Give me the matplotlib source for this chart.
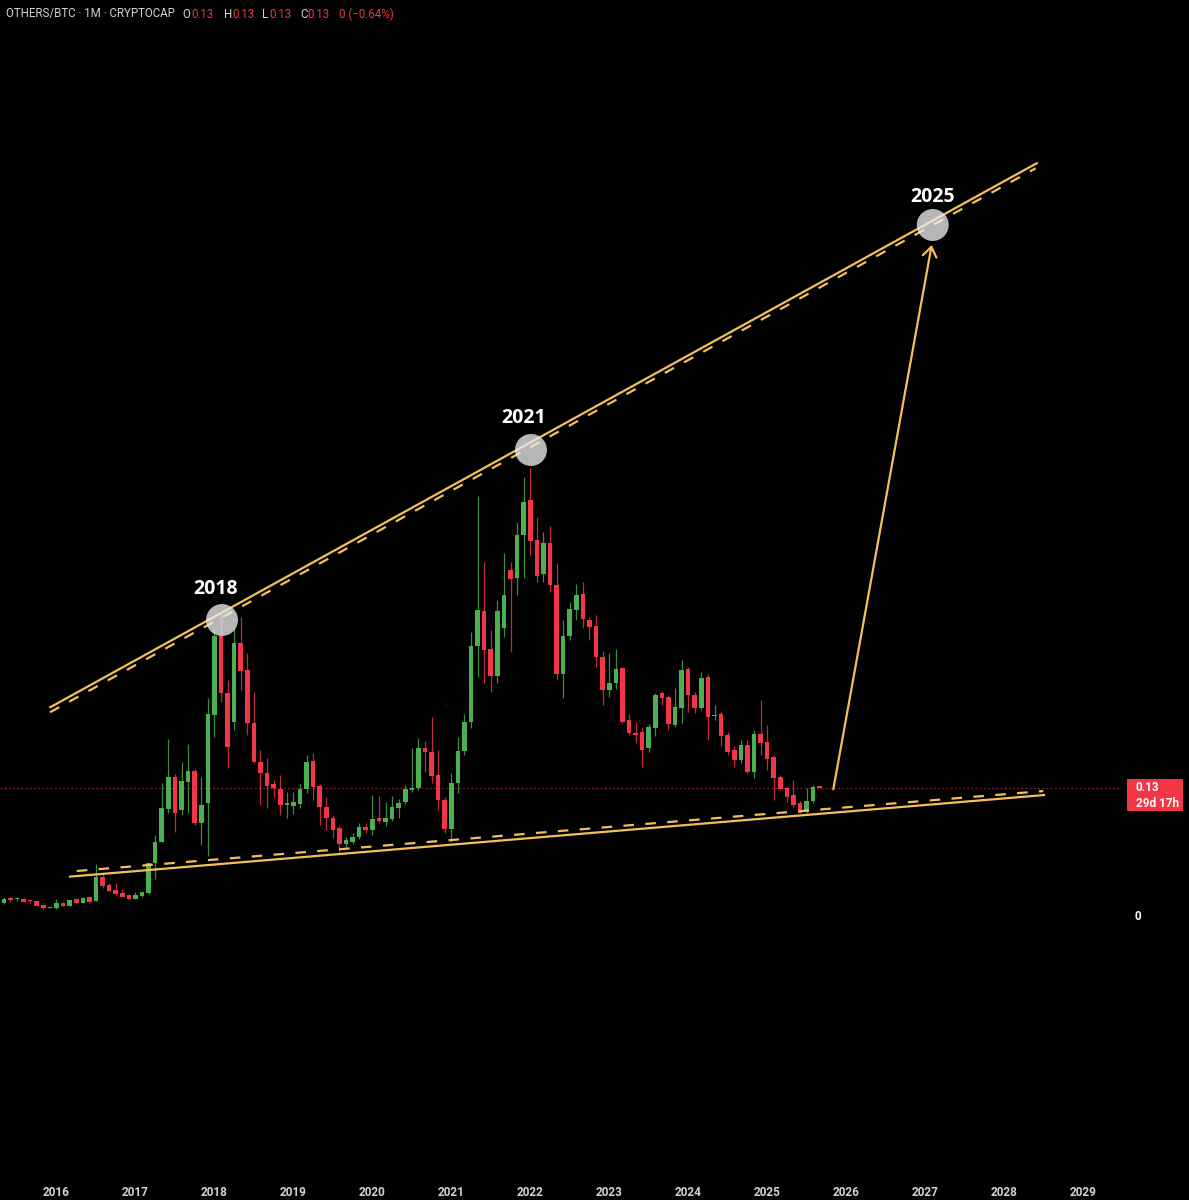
import numpy as np
import pandas as pd
import matplotlib
matplotlib.use("Agg")
import matplotlib.pyplot as plt
import matplotlib.transforms as mtransforms
from matplotlib.patches import Rectangle

plt.rcParams["font.family"] = ["Roboto", "DejaVu Sans"]
plt.rcParams["lines.scale_dashes"] = False

# ---- monthly OHLC, OTHERS/BTC, May 2015 .. Sep 2025 ----
opens = [
    .0119, .0162, .0165, .0162, .0145, .0139, .0098, .0072,
    .0068, .0125, .0094, .0159, .0125, .0179, .0142, .0383, .0308, .0257, .0223, .0203,
    .0166, .0193, .0220, .0525, .0745, .1073, .1405, .1066, .1354, .1463, .0931, .1134,
    .2031, .2834, .2258, .1963, .2759, .2488, .1947, .1557, .1438, .1330, .1280, .1117,
    .1107, .1127, .1280, .1567, .1313, .1094, .0982, .0880, .0721, .0745, .0789, .0891,
    .0863, .0988, .0948, .0972, .1083, .1151, .1270, .1287, .1693, .1659, .1422, .1168,
    .0870, .1338, .1666, .1957, .2732, .3088, .2702, .2427, .2918, .3504, .3420, .3860,
    .4215, .3809, .3460, .3775, .3352, .2448, .2834, .3098, .3260, .2996, .2935, .2623,
    .2285, .2353, .2506, .1980, .1852, .1855, .1693, .1902, .2252, .2217, .1930, .2106,
    .2495, .2234, .2106, .2414, .2020, .2041, .1828, .1676, .1574, .1727, .1456, .1838,
    .1760, .1608, .1405, .1293, .1219, .1141, .1050, .1158, .1303,
]
highs = [
    .0186, .0186, .0186, .0173, .0160, .0142, .0101, .0080,
    .0160, .0130, .0155, .0165, .0183, .0193, .0518, .0424, .0320, .0328, .0261, .0210,
    .0231, .0237, .0530, .0813, .1338, .1784, .1430, .1557, .1737, .1480, .1405, .2201,
    .2900, .3064, .2387, .2912, .3030, .2658, .2268, .1676, .1590, .1370, .1422, .1252,
    .1245, .1333, .1625, .1642, .1330, .1202, .1016, .0900, .0796, .0830, .0930, .0930,
    .1219, .1209, .1151, .1209, .1180, .1320, .1693, .1795, .1770, .2014, .1676, .1200,
    .1439, .1810, .2040, .2877, .4256, .3588, .2895, .3196, .3673, .3588, .3995, .4452,
    .4540, .4045, .3893, .3950, .3572, .3000, .3180, .3362, .3386, .3030, .3047, .2685,
    .2664, .2699, .2516, .2037, .1963, .1913, .1940, .2258, .2275, .2230, .2302, .2590,
    .2520, .2260, .2471, .2450, .2133, .2065, .1862, .1716, .1777, .1777, .1879, .2184,
    .1930, .1620, .1420, .1310, .1371, .1160, .1287, .1321, .1306,
]
lows = [
    .0112, .0132, .0145, .0132, .0125, .0088, .0064, .0070,
    .0061, .0090, .0090, .0118, .0120, .0119, .0140, .0271, .0240, .0203, .0180, .0155,
    .0159, .0180, .0215, .0366, .0740, .1033, .0846, .1016, .1033, .0910, .0711, .0600,
    .1810, .2166, .1490, .1879, .2285, .1828, .1540, .1117, .1083, .1202, .1016, .0982,
    .1030, .1083, .1235, .1168, .0914, .0863, .0779, .0643, .0694, .0720, .0770, .0830,
    .0813, .0930, .0900, .0950, .0990, .1130, .1250, .1270, .1450, .1338, .1066, .0830,
    .0745, .1240, .1620, .1900, .2420, .2353, .2268, .2353, .2827, .2674, .3250, .3420,
    .3656, .3385, .3385, .3284, .2387, .2201, .2790, .3000, .2915, .2790, .2522, .2133,
    .2211, .2300, .1947, .1828, .1744, .1506, .1659, .1818, .2133, .1879, .1913, .1947,
    .2065, .2050, .2080, .1777, .1980, .1720, .1625, .1506, .1541, .1439, .1388, .1625,
    .1473, .1168, .1270, .1151, .1100, .1033, .1033, .1134, .1292,
]
closes = [
    .0166, .0157, .0167, .0135, .0140, .0091, .0068, .0076,
    .0122, .0094, .0149, .0122, .0173, .0132, .0383, .0298, .0244, .0209, .0186, .0159,
    .0206, .0231, .0525, .0745, .1083, .1405, .1033, .1364, .1466, .0931, .1117, .2041,
    .2834, .2258, .1709, .2759, .2481, .1947, .1557, .1438, .1313, .1287, .1117, .1134,
    .1151, .1280, .1557, .1303, .1094, .0982, .0863, .0721, .0762, .0795, .0891, .0863,
    .0978, .0958, .0985, .1094, .1134, .1277, .1290, .1693, .1652, .1412, .1168, .0870,
    .1344, .1666, .1957, .2732, .3098, .2691, .2427, .3088, .3250, .3410, .3860, .4198,
    .3802, .3443, .3775, .3352, .2448, .2834, .3105, .3250, .3003, .2928, .2623, .2285,
    .2353, .2495, .1963, .1845, .1831, .1676, .1912, .2234, .2207, .1940, .2116, .2488,
    .2234, .2099, .2410, .2014, .2031, .1818, .1659, .1574, .1727, .1456, .1838, .1750,
    .1581, .1388, .1280, .1202, .1117, .1039, .1158, .1303, .12947,
]
first_month = "2015-05-01"

# trendlines: (year, value) end points
upper_solid = [(2015.909, 0.2105), (2028.427, 0.7641)]
upper_dash = [(2015.918, 0.2059), (2028.401, 0.7584)]
lower_solid = [(2016.158, 0.0389), (2028.519, 0.1219)]
lower_dash = [(2016.256, 0.0447), (2028.497, 0.1259)]

# marked cycle tops
pivot_labels = ["2018", "2021", "2025"]
pivot_x = [2018.096, 2022.009, 2027.097]
pivot_y = [0.2996, 0.4723, 0.7008]

# projection arrow
arrow_from = (2025.838, 0.1277)
arrow_to = (2027.084, 0.6805)

year_ticks = list(range(2016, 2030))
countdown = "29d 17h"

# ---- styling ----
BG = "#000000"
UP = "#4caf50"
DOWN = "#f23645"
GOLD = "#f4bf5a"
TEXT = "#d1d4dc"

W, H = 1189, 1200
fig = plt.figure(figsize=(W / 100, H / 100), dpi=100, facecolor=BG)
ax_left, ax_right_px, ax_bottom_px = 0, 1122, 1180
ax = fig.add_axes([0, (H - ax_bottom_px) / H, ax_right_px / W, ax_bottom_px / H])
ax.set_facecolor(BG)
for s in ax.spines.values():
    s.set_visible(False)

x_lo, x_hi = 2015.2845, 2029.494
y_lo, y_hi = -0.26914, 0.92931
ax.set_xlim(x_lo, x_hi)
ax.set_ylim(y_lo, y_hi)
px_per_unit = ax_bottom_px / (y_hi - y_lo)

o = np.array(opens)
h = np.array(highs)
l = np.array(lows)
c = np.array(closes)
months = pd.date_range(first_month, periods=len(o), freq="MS")
x = months.year + (months.month - 1) / 12.0

up = c >= o
colors = np.where(up, UP, DOWN)
body_lo = np.minimum(o, c)
body_h = np.maximum(np.abs(c - o), 1.2 / px_per_unit)

ax.vlines(x, l, h, colors=colors, linewidth=0.9, alpha=0.8, zorder=2)
ax.bar(x, body_h, bottom=body_lo, width=0.058, color=colors, linewidth=0, zorder=3)

# current price line
last = c[-1]
ax.axhline(last, color="#7a2630", lw=0.8, ls=(0, (1.5, 1.5)), zorder=1)

# channel lines
for pts, ls in [(upper_solid, "-"), (lower_solid, "-"),
                (upper_dash, (0, (7.6, 8.2))), (lower_dash, (0, (7.6, 8.2)))]:
    xs, ys = zip(*pts)
    ax.plot(xs, ys, color=GOLD, lw=1.6, ls=ls, solid_capstyle="butt",
            dash_capstyle="butt", zorder=4)

# projection arrow
ax.annotate("", xy=arrow_to, xytext=arrow_from,
            arrowprops=dict(arrowstyle="->,head_length=0.7,head_width=0.5",
                            color=GOLD, lw=1.6, shrinkA=0, shrinkB=0,
                            mutation_scale=10),
            zorder=4)

# cycle-top markers
ax.scatter(pivot_x, pivot_y, s=530, c="#ebebeb", alpha=0.78,
           edgecolors="none", zorder=6)
label_offsets = [(-4.3, 22.5), (-5.0, 23.0), (0.0, 19.8)]
for lab, px_, py_, off in zip(pivot_labels, pivot_x, pivot_y, label_offsets):
    ax.annotate(lab, xy=(px_, py_), xytext=off, textcoords="offset points",
                ha="center", va="center", fontsize=14, fontweight="bold",
                family=["Open Sans", "DejaVu Sans"], color="white", zorder=7)

# time axis
ax.set_xticks(year_ticks)
ax.set_xticklabels([str(y) for y in year_ticks])
ax.tick_params(axis="x", length=0, pad=4, labelsize=8.5, labelcolor=TEXT)
for t in ax.get_xticklabels():
    t.set_fontweight("bold")

# price scale
ax.yaxis.tick_right()
ax.set_yticks([0])
ax.set_yticklabels(["0"])
ax.tick_params(axis="y", length=0, pad=9, labelsize=8.5, labelcolor="white")
for t in ax.get_yticklabels():
    t.set_fontweight("bold")

# last price tag
trans = mtransforms.blended_transform_factory(fig.transFigure, ax.transData)
tag_x0, tag_w = 1126.7 / W, 56.6 / W
ax.add_patch(Rectangle((tag_x0, last - 23.5 / px_per_unit), tag_w, 32 / px_per_unit,
                       transform=trans, facecolor=DOWN, edgecolor="none",
                       clip_on=False, zorder=8))
ax.text(1136 / W, last, f"{last:.2f}", transform=trans, ha="left", va="center",
        fontsize=8.5, fontweight="bold", color="white", zorder=9, clip_on=False)
ax.text(1136 / W, last - 15.5 / px_per_unit, countdown, transform=trans,
        ha="left", va="center", fontsize=8.5, fontweight="bold", color="white",
        zorder=9, clip_on=False)

# legend header
chg = round(c[-1] - c[-2], 2)
chg_txt = "0" if chg == 0 else f"{chg:g}".replace("-", "\u2212")
pct_txt = f"{(c[-1] / c[-2] - 1) * 100:.2f}".replace("-", "\u2212")
val_col = DOWN if c[-1] < c[-2] else UP
pieces = [
    (6, "OTHERS/BTC \u00b7 1M \u00b7 CRYPTOCAP", TEXT),
    (182.7, "O", TEXT), (191.7, f"{o[-1]:.2f}", val_col),
    (224, "H", TEXT), (232, f"{h[-1]:.2f}", val_col),
    (262, "L", TEXT), (269, f"{l[-1]:.2f}", val_col),
    (300, "C", TEXT), (307.7, f"{c[-1]:.2f}", val_col),
    (339, f"{chg_txt} ({pct_txt}%)", val_col),
]
for px_, txt, col in pieces:
    fig.text(px_ / W, 1 - 14 / H, txt, ha="left", va="center", fontsize=8.3,
             color=col)

fig.savefig("out.png", dpi=100, facecolor=BG)
